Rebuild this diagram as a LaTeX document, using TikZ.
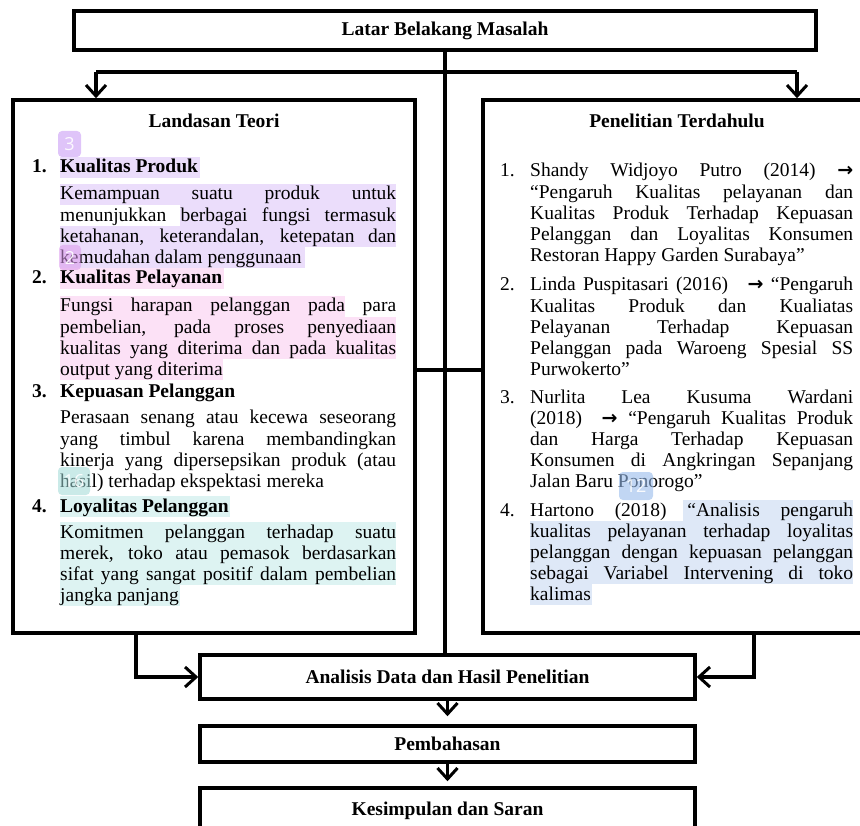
\documentclass[tikz,border=0pt]{standalone}
\usepackage{fontspec}
\setmainfont{Liberation Serif}
\newfontfamily\badgefont{Open Sans}
\newfontfamily\panahfont{DejaVu Sans}
\usepackage{color}
\usetikzlibrary{arrows.meta}
\newcommand*{\xKiri}{60}
\newcommand*{\xKanan}{530}
\newcommand*{\lebarKiri}{336}
\newcommand*{\lebarKanan}{323}
\newcommand*{\isifont}{\fontsize{19.5}{21.1}\selectfont\hyphenpenalty=10000 }
\newcommand*{\kePanah}{{\panahfont\bfseries\fontsize{19}{19}\selectfont →}}
\definecolor{ungu}{HTML}{EBDDFB}
\definecolor{unguTua}{HTML}{D4B0F7}
\definecolor{merahmuda}{HTML}{FCE1F6}
\definecolor{merahmudaTua}{HTML}{DB98EC}
\definecolor{tosca}{HTML}{DDF3F2}
\definecolor{toscaTua}{HTML}{9FD8D6}
\definecolor{biru}{HTML}{DEE8F7}
\definecolor{biruTua}{HTML}{97BBEB}
\tikzset{
	kotak/.style={draw, line width=3.5pt, inner sep=0pt, font=\isifont\bfseries},
	garis/.style={line width=3.5pt},
	panah/.style={line width=3.5pt, -{Straight Barb[length=11pt,width=20pt,line width=3pt]}},
	judul/.style={anchor=base, inner sep=0pt, font=\isifont\bfseries},
	nomor/.style={anchor=base west, inner sep=0pt, font=\isifont},
	isikiri/.style={anchor=base west, inner sep=0pt, text width=\lebarKiri pt, align=justify, font=\isifont},
	isikanan/.style={anchor=base west, inner sep=0pt, text width=\lebarKanan pt, align=justify, font=\isifont},
	lencana/.style={rounded corners=4pt, inner sep=0pt, text=white, fill opacity=0.75, text opacity=0.9, font=\badgefont\fontsize{18}{18}\selectfont}
}
\begin{document}
\begin{tikzpicture}[x=1pt,y=-1pt]
	\useasboundingbox (0,0) rectangle (860,826);
	\clip (0,0) rectangle (860,826);

	\foreach \y/\a/\b in {173/60/200, 200/60/396, 221/180/396, 242/60/396, 263/60/305} {
		\fill[ungu] (\a,\y-16) rectangle (\b,\y+5);
	}
	\foreach \y/\a/\b in {284/60/224, 312/60/345, 333/60/396, 354/60/396, 375/60/223} {
		\fill[merahmuda] (\a,\y-16) rectangle (\b,\y+5);
	}
	\foreach \y/\a/\b in {512/60/230, 538/60/396, 559/60/396, 580/60/396, 601/60/180} {
		\fill[tosca] (\a,\y-16) rectangle (\b,\y+5);
	}
	\foreach \y/\a/\b in {516/683/853, 537/530/853, 558/530/853, 579/530/853, 600/530/592} {
		\fill[biru] (\a,\y-16) rectangle (\b,\y+5);
	}

	\node[kotak, minimum width=742pt, minimum height=39pt] (latar) at (445,30.5) {Latar Belakang Masalah};
	\node[kotak, minimum width=402pt, minimum height=533pt] (landasan) at (214,366.5) {};
	\node[kotak, minimum width=392pt, minimum height=533pt] (penelitian) at (679,366.5) {};
	\node[kotak, minimum width=495pt, minimum height=44pt] (analisis) at (447.5,677) {Analisis Data dan Hasil Penelitian};
	\node[kotak, minimum width=495pt, minimum height=36pt] (pembahasan) at (447.5,744) {Pembahasan};
	\node[kotak, minimum width=495pt, minimum height=46pt] (kesimpulan) at (447.5,811) {Kesimpulan dan Saran};

	\coordinate (cabKiri) at (96,72);
	\coordinate (cabKanan) at (797,72);
	\coordinate (tengah) at (447,370);
	\coordinate (kakiKiri) at (136,633);
	\coordinate (kakiKanan) at (754,633);

	\draw[garis] (latar.south) -- (latar.south |- analisis.north);
	\draw[garis] (cabKiri) -- (cabKanan);
	\draw[panah] (cabKiri) -- (cabKiri |- landasan.north);
	\draw[panah] (cabKanan) -- (cabKanan |- penelitian.north);
	\draw[garis] (tengah -| landasan.east) -- (tengah -| penelitian.west);
	\draw[panah] (kakiKiri) |- (analisis.west);
	\draw[panah] (kakiKanan) |- (analisis.east);
	\draw[panah, shorten >=8pt] (analisis.south) -- (pembahasan.north);
	\draw[panah, shorten >=5pt] (pembahasan.south) -- (kesimpulan.north);

	\node[judul] (jLandasan) at (214,128) {Landasan Teori};
	\node[judul] (jPenelitian) at (677,128) {Penelitian Terdahulu};

	\node[nomor, font=\isifont\bfseries] (n1) at (32,173) {1.};
	\node[nomor, font=\isifont\bfseries] (kp) at (\xKiri,173) {Kualitas Produk};
	\node[isikiri] (p1) at (\xKiri,200) {Kemampuan suatu produk untuk\linebreak menunjukkan berbagai fungsi termasuk\linebreak ketahanan, keterandalan, ketepatan dan\linebreak kemudahan dalam penggunaan};
	\node[nomor, font=\isifont\bfseries] (n2) at (32,284) {2.};
	\node[nomor, font=\isifont\bfseries] (kpl) at (\xKiri,284) {Kualitas Pelayanan};
	\node[isikiri] (p2) at (\xKiri,312) {Fungsi harapan pelanggan pada para\linebreak pembelian, pada proses penyediaan\linebreak kualitas yang diterima dan pada kualitas\linebreak output yang diterima};
	\node[nomor, font=\isifont\bfseries] (n3) at (32,398) {3.};
	\node[nomor, font=\isifont\bfseries] (kep) at (\xKiri,398) {Kepuasan Pelanggan};
	\node[isikiri] (p3) at (\xKiri,424) {Perasaan senang atau kecewa seseorang\linebreak yang timbul karena membandingkan\linebreak kinerja yang dipersepsikan produk (atau\linebreak hasil) terhadap ekspektasi mereka};
	\node[nomor, font=\isifont\bfseries] (n4) at (32,512) {4.};
	\node[nomor, font=\isifont\bfseries] (lp) at (\xKiri,512) {Loyalitas Pelanggan};
	\node[isikiri] (p4) at (\xKiri,538) {Komitmen pelanggan terhadap suatu\linebreak merek, toko atau pemasok berdasarkan\linebreak sifat yang sangat positif dalam pembelian\linebreak jangka panjang};

	\node[nomor] (r1) at (500,177) {1.};
	\node[isikanan] (q1) at (\xKanan,177) {Shandy Widjoyo Putro (2014) \kePanah\linebreak “Pengaruh Kualitas pelayanan dan\linebreak Kualitas Produk Terhadap Kepuasan\linebreak Pelanggan dan Loyalitas Konsumen\linebreak Restoran Happy Garden Surabaya”};
	\node[nomor] (r2) at (500,291) {2.};
	\node[isikanan] (q2) at (\xKanan,291) {Linda Puspitasari (2016)\quad \kePanah\ “Pengaruh\linebreak Kualitas Produk dan Kualiatas\linebreak Pelayanan Terhadap Kepuasan\linebreak Pelanggan pada Waroeng Spesial SS\linebreak Purwokerto”};
	\node[nomor] (r3) at (500,403) {3.};
	\node[isikanan] (q3) at (\xKanan,403) {Nurlita Lea Kusuma Wardani\linebreak (2018)\quad \kePanah\ “Pengaruh Kualitas Produk\linebreak dan Harga Terhadap Kepuasan\linebreak Konsumen di Angkringan Sepanjang\linebreak Jalan Baru Ponorogo”};
	\node[nomor] (r4) at (500,516) {4.};
	\node[isikanan] (q4) at (\xKanan,516) {Hartono (2018) “Analisis pengaruh\linebreak kualitas pelayanan terhadap loyalitas\linebreak pelanggan dengan kepuasan pelanggan\linebreak sebagai Variabel Intervening di toko\linebreak kalimas};

	\node[lencana, fill=unguTua, minimum width=23pt, minimum height=26pt] (b3) at (69.5,144) {3};
	\node[lencana, fill=merahmudaTua, fill opacity=0.55, minimum width=22pt, minimum height=25pt] (b2) at (70,257.5) {2};
	\node[lencana, fill=toscaTua, fill opacity=0.55, minimum width=32pt, minimum height=28pt] (b16) at (74,481) {16};
	\node[lencana, fill=biruTua, fill opacity=0.6, minimum width=34pt, minimum height=28pt] (b12) at (636,486) {12};
\end{tikzpicture}
\end{document}
